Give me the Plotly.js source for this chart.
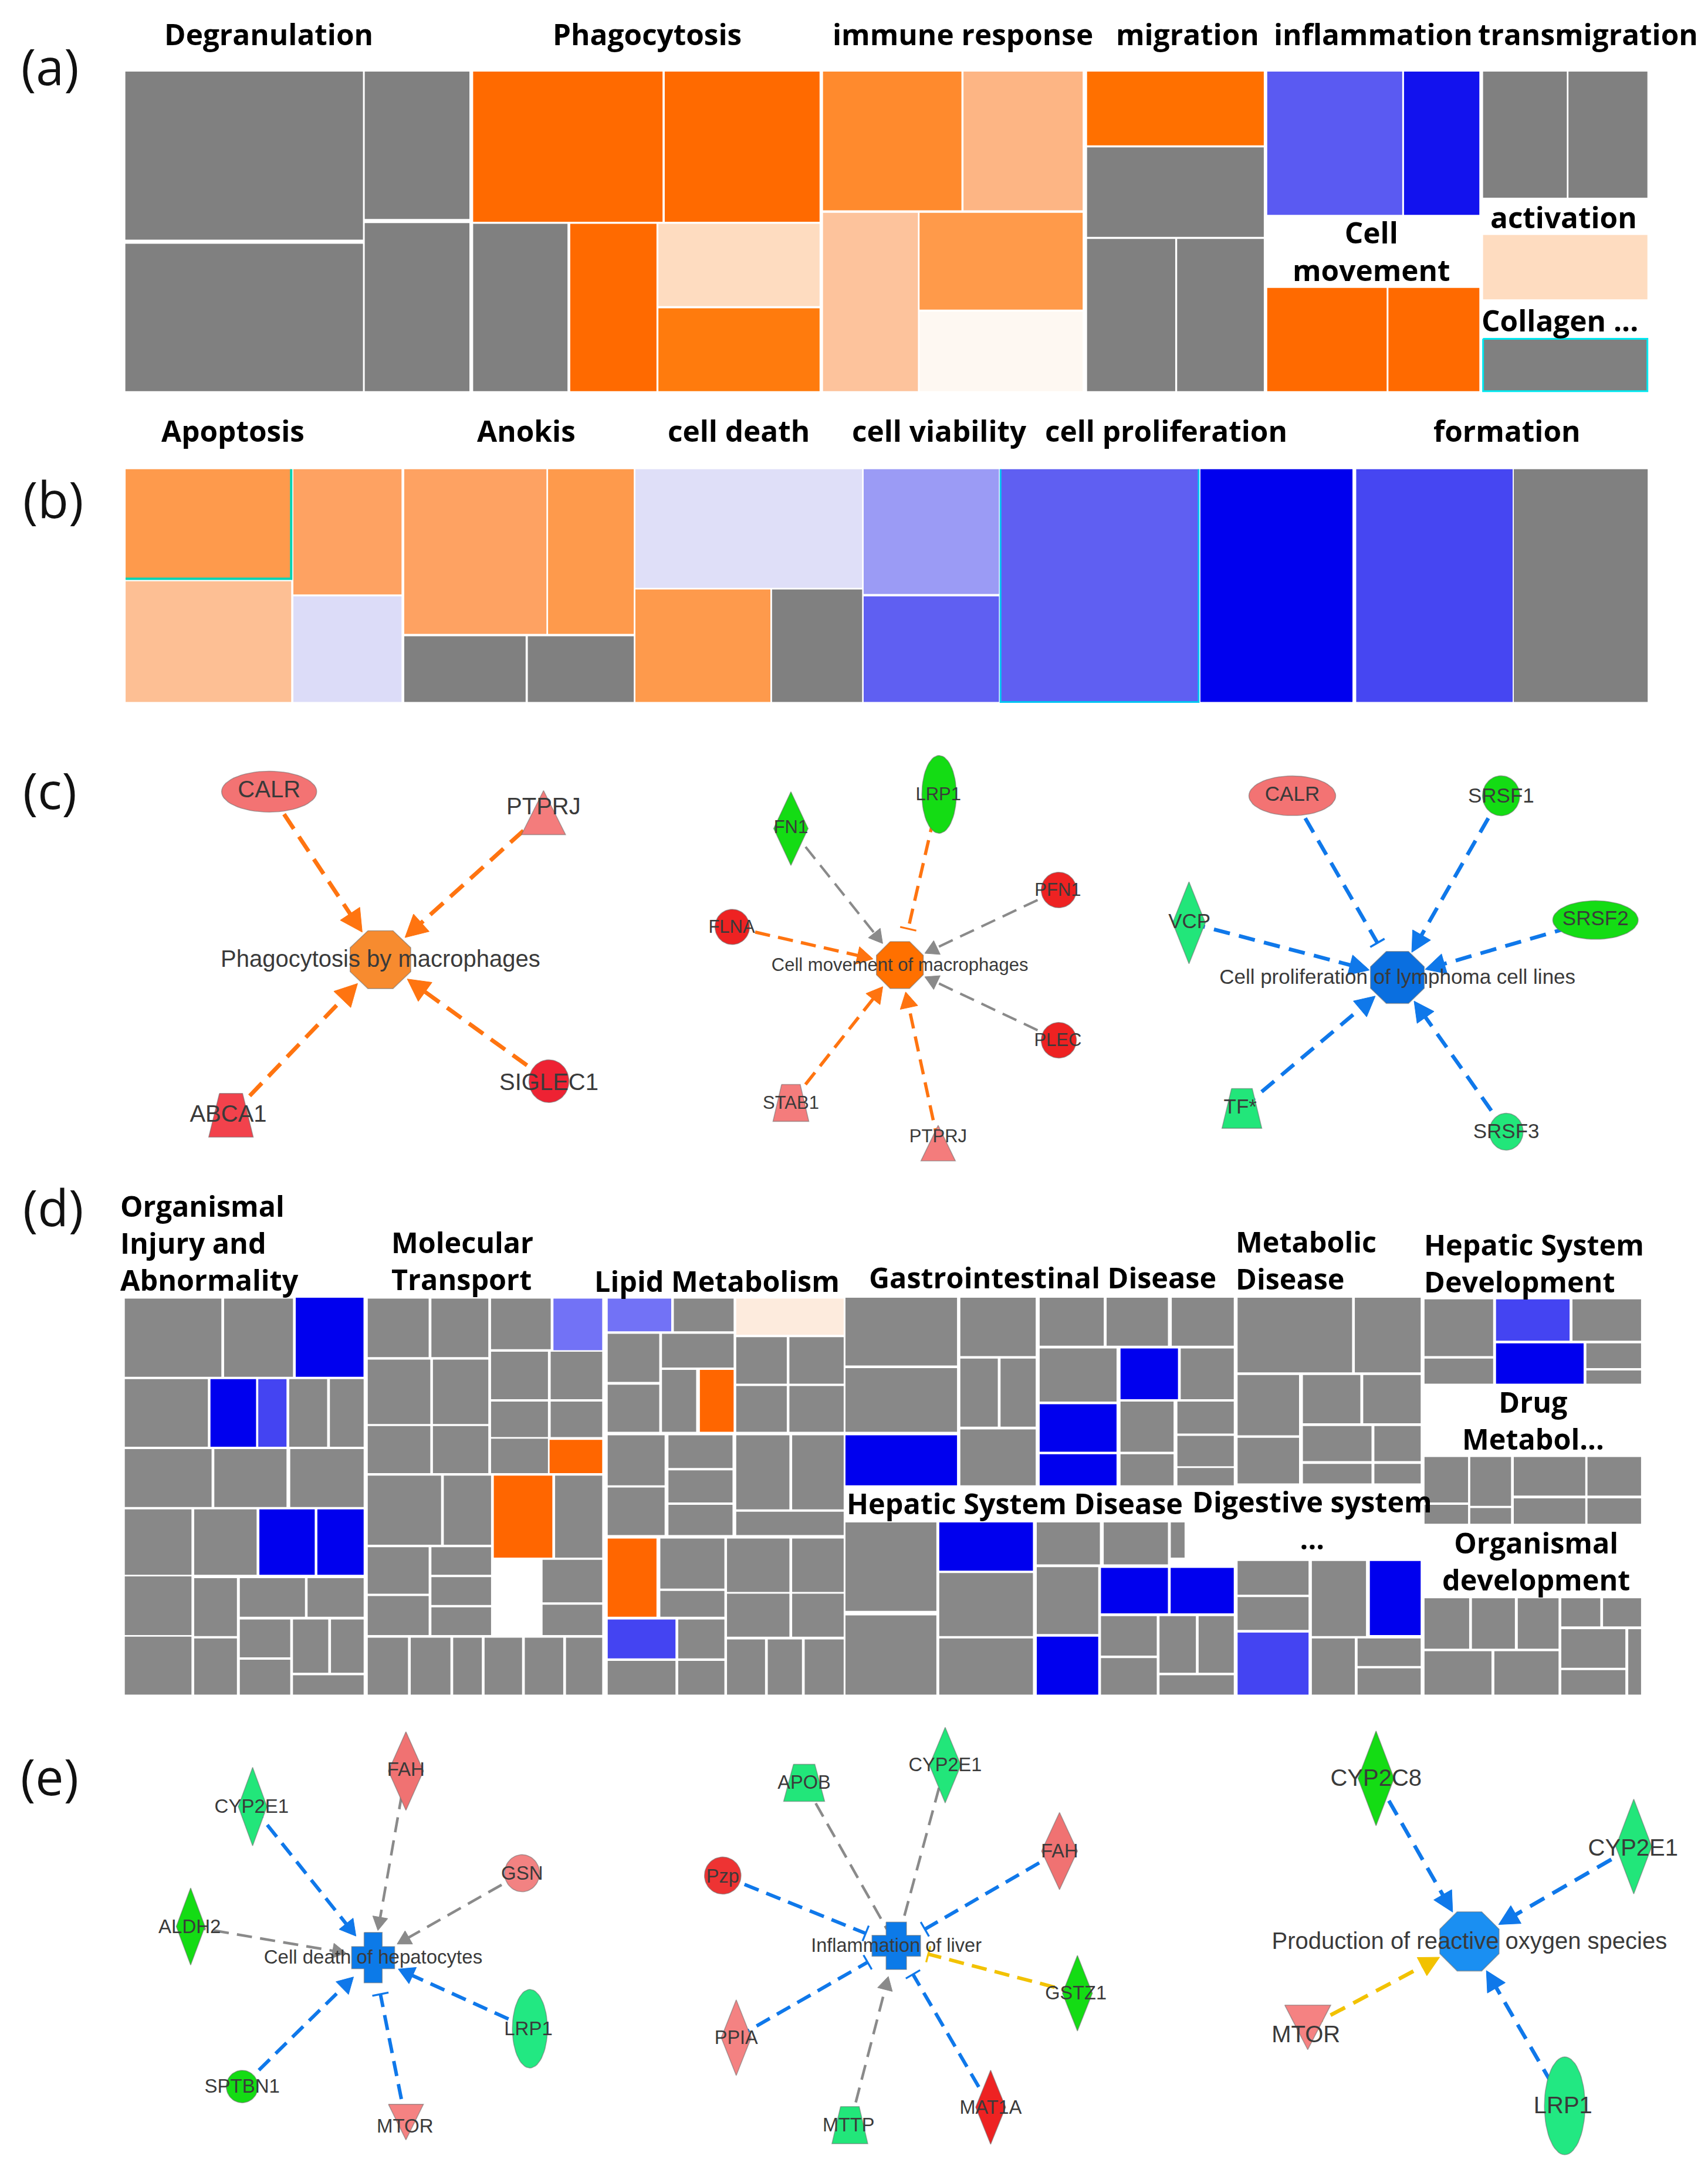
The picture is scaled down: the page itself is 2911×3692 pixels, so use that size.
<!DOCTYPE html>
<html><head><meta charset="utf-8">
<script src="https://cdn.plot.ly/plotly-3.0.1.min.js"></script>
<style>html,body{margin:0;padding:0;background:#fff;}#plot{width:2911px;height:3692px;}</style>
</head><body><div id="plot"></div>
<script>
// ================= DATA =================
// Treemap cells: [x0, y0, x1, y1, colour key] (reference units, 1240 wide)
const cellsA = [
 [91,52,263.5,174,'g'],[91,177,263.5,284,'g'],[264.8,52,340.8,159,'g'],[264.8,162,340.8,284,'g'],
 [343.5,52,481,161,'o'],[482.6,52,595,161,'o'],[343.5,162.5,412,284,'g'],[414,162.5,476.6,284,'o'],[478,162.5,595,222.3,'p1'],[478,223.8,595,284,'o2'],
 [597.5,52,698,152.7,'o3'],[699.5,52,786,152.7,'o4'],[597.5,154.5,666.4,284,'o5'],[667.6,154.5,786,224.8,'o6'],[667.6,226.3,786,284,'w1'],
 [789.2,52,917.5,105.5,'o7'],[789.2,107,917.5,172,'g'],[789.2,173.5,853.2,284,'g'],[854.6,173.5,917.5,284,'g'],
 [920,52,1018,156,'b1'],[1019.3,52,1074,156,'b2'],[920,209,1006.7,284,'o'],[1008,209,1074,284,'o'],
 [1076.7,52,1137.5,143.6,'g'],[1138.7,52,1196,143.6,'g'],[1076.7,170.6,1196,217.3,'p1'],[1076.7,246,1196,284,'g']
];
const labelsA = [['Degranulation',195,24.5],['Phagocytosis',470,24.5],['immune response',699,24.5],['migration',862,24.5],['inflammation',997,24.5],['transmigration',1153,24.5]];
const innerLabelsA = [['Cell<br>movement',995.7,182.5,'center'],['activation',1135,157.5,'center'],['Collagen ...',1075,232.5,'left']];

const cellsB = [
 [91.2,340.7,211.4,420.2,'bo1'],[91.2,422,211.4,509.7,'bp'],[213,340.7,291.5,431.6,'bo2'],[213,433,291.5,509.7,'bl'],
 [293.5,340.7,396.7,460.3,'bo2'],[397.9,340.7,460.1,460.3,'bo1'],[293.5,462,381.6,509.7,'g'],[383.2,462,460.1,509.7,'g'],
 [461.3,340.7,625.9,426.8,'bl2'],[461.3,428,559.3,509.7,'bo1'],[560.5,428,625.9,509.7,'g'],
 [627,340.7,725.2,431.3,'bv1'],[627,433,725.2,509.7,'bv2'],
 [726.4,340.7,870.2,509.7,'bv2'],[871.5,340.7,981.9,509.7,'bb'],
 [984.6,340.7,1098.2,509.7,'bv3'],[1099,340.7,1196.2,509.7,'g']
];
const labelsB = [['Apoptosis',169,312.8],['Anokis',382,312.8],['cell death',536.5,312.8],['cell viability',682,312.8],['cell proliferation',846.8,312.8],['formation',1094,312.8]];

const cellsD = [
 // Organismal Injury and Abnormality
 [90.6,942.9,160.7,999.6,'dg'],[162.7,942.9,212.7,999.6,'dg'],[214.7,942.2,263.9,999.6,'db'],
 [90.6,1001.4,150.9,1050.4,'dg'],[152.8,1001.4,185.9,1050.4,'db'],[187.5,1001.4,208,1050.4,'dm'],[210,1001.4,237.5,1050.4,'dg'],[239.5,1001.4,264,1050.4,'dg'],
 [90.6,1052.2,153.6,1094.2,'dg'],[155.6,1052.2,208,1094.2,'dg'],[210.7,1052.2,264,1094.2,'dg'],
 [90.6,1095.9,139,1143.4,'dg'],[141,1095.9,186.3,1143.4,'dg'],[188.3,1095.9,228.5,1143.4,'db'],[230.4,1095.9,264,1143.4,'db'],
 [90.6,1144.6,139,1187.2,'dg'],[90.6,1188.4,139,1230.4,'dg'],[141,1145.9,172,1187.9,'dg'],[141,1189.6,172,1230.4,'dg'],
 [174.1,1145.9,221.4,1173.9,'dg'],[223.3,1145.9,264,1173.9,'dg'],[174.1,1175.9,210.7,1203.4,'dg'],[174.1,1205.1,210.7,1230.4,'dg'],
 [212.7,1175.9,238.3,1214.6,'dg'],[240.3,1175.9,264,1214.6,'dg'],[212.7,1216.4,264,1230.4,'dg'],
 // Molecular Transport
 [267,942.9,311.2,985.4,'dg'],[313.2,942.9,354.5,985.4,'dg'],[267,987.2,312.4,1033.9,'dg'],[314.3,987.2,354.5,1033.9,'dg'],
 [267,1035.4,312.4,1069.6,'dg'],[314.3,1035.4,354.5,1069.6,'dg'],
 [356.5,942.9,399.8,979.6,'dg'],[401.8,942.9,437.2,980.4,'dl'],[356.5,981.4,397.8,1015.9,'dg'],[399.8,981.4,437.2,1015.9,'dg'],
 [356.5,1017.6,397.8,1043.4,'dg'],[399.8,1017.6,437.2,1043.4,'dg'],[356.5,1044.6,397.8,1069.6,'dg'],[399,1045.4,437.2,1069.6,'do'],
 [267,1071.4,320.2,1121.6,'dg'],[322.2,1071.4,356.5,1121.6,'dg'],[358.5,1071.4,401,1130.9,'do'],[403,1071.4,437.2,1130.9,'dg'],
 [267,1123.4,311.2,1157.1,'dg'],[267,1158.9,311.2,1187.2,'dg'],[313.2,1123.4,356.5,1143.4,'dg'],[313.2,1145.1,356.5,1165.4,'dg'],[313.2,1167.1,356.5,1187.2,'dg'],
 [358.5,1132.1,392,1187.2,'dw'],[393.9,1132.6,437.2,1163.4,'dg'],[393.9,1165.1,437.2,1187.2,'dg'],
 [267,1189.1,296.2,1230.4,'dg'],[298.2,1189.1,327,1230.4,'dg'],[329,1189.1,349.8,1230.4,'dg'],[351.8,1189.1,379,1230.4,'dg'],[381,1189.1,408.9,1230.4,'dg'],[410.9,1189.1,437.2,1230.4,'dg'],
 // Lipid Metabolism
 [441.2,942.9,487.3,966.6,'dl'],[489.2,942.9,532.6,966.6,'dg'],[534.5,942.9,612.5,969.2,'dp'],
 [441.2,968.4,478.6,1003.4,'dg'],[480.6,968.4,532.6,992.9,'dg'],[480.6,994.6,505.4,1039.6,'dg'],[508.1,994.6,532.6,1039.6,'do'],[441.2,1005.4,478.6,1039.6,'dg'],
 [534.5,970.9,571.2,1004.6,'dg'],[573.1,970.9,612.5,1004.6,'dg'],[534.5,1006.4,571.2,1039.6,'dg'],[573.1,1006.4,612.5,1039.6,'dg'],
 [441.2,1042.1,482.5,1078.4,'dg'],[441.2,1080.1,482.5,1114.6,'dg'],[485.3,1042.1,531.8,1065.9,'dg'],[485.3,1067.6,531.8,1090.9,'dg'],[485.3,1092.6,531.8,1114.6,'dg'],
 [534.5,1042.1,573.1,1095.9,'dg'],[575.1,1042.1,612.5,1095.9,'dg'],[534.5,1097.6,612.5,1114.6,'dg'],
 [441.2,1117.1,476.6,1173.9,'do'],[479.4,1117.1,525.9,1153.4,'dg'],[479.4,1155.1,525.9,1173.9,'dg'],
 [441.2,1175.9,490.4,1204.1,'dm'],[492.4,1175.9,525.9,1204.1,'dg'],[441.2,1205.9,490.4,1230.4,'dg'],[492.4,1205.9,525.9,1230.4,'dg'],
 [527.8,1117.1,573.1,1155.9,'dg'],[575.1,1117.1,612.5,1155.9,'dg'],[527.8,1157.1,573.1,1188.4,'dg'],[575.1,1157.1,612.5,1188.4,'dg'],
 [527.8,1190.4,555.4,1230.4,'dg'],[557.4,1190.4,582.2,1230.4,'dg'],[584.2,1190.4,612.5,1230.4,'dg'],
 // Gastrointestinal Disease
 [613.8,942.2,694.8,991.4,'dg'],[613.8,993.4,694.8,1039.6,'dg'],[613.8,1042.1,694.8,1078.4,'db'],
 [697.2,942.2,751.9,984.6,'dg'],[697.2,986.4,724.4,1035.9,'dg'],[726.4,986.4,751.9,1035.9,'dg'],[697.2,1037.9,751.9,1078.4,'dg'],
 [754.8,942.2,801.3,977.1,'dg'],[803.4,942.2,847.9,977.1,'dg'],[850.7,942.2,895.7,977.1,'dg'],
 [754.8,979.1,810.6,1017.6,'dg'],[813.5,979.1,855.2,1015.9,'db'],[857.2,979.1,895.7,1015.9,'dg'],
 [754.8,1019.6,810.6,1054.1,'db'],[754.8,1055.9,810.6,1078.4,'db'],[813.5,1017.6,852,1054.1,'dg'],[813.5,1055.9,852,1078.4,'dg'],
 [854.8,1017.6,895.7,1040.9,'dg'],[854.8,1042.6,895.7,1064.6,'dg'],[854.8,1065.9,895.7,1078.4,'dg'],
 // Hepatic System Disease
 [613.8,1105.4,679.8,1169.6,'dg'],[613.8,1172.9,679.8,1230.4,'dg'],[681.9,1105.4,749.9,1140.4,'db'],[681.9,1142.1,749.9,1187.9,'dg'],[681.9,1189.6,749.9,1230.4,'dg'],
 [752.7,1105.4,798.5,1135.9,'dg'],[801.3,1105.4,847.9,1135.9,'dg'],[850,1105.4,860,1131,'dg'],
 [752.7,1137.9,797.3,1186.4,'dg'],[752.7,1188.4,797.3,1230.4,'db'],[799.3,1138.4,847.9,1171.4,'db'],[849.9,1138.4,895.7,1171.4,'db'],
 [799.3,1173.4,839.8,1202.1,'dg'],[799.3,1203.9,839.8,1230.4,'dg'],[841.8,1173.4,868.2,1214.6,'dg'],[870.2,1173.4,895.7,1214.6,'dg'],[841.8,1216.4,895.7,1230.4,'dg'],
 // Metabolic Disease
 [898.5,942.2,981.6,996.4,'dg'],[983.6,942.2,1031.4,996.4,'dg'],[898.5,998.4,943.1,1042.1,'dg'],[898.5,1043.9,943.1,1077.1,'dg'],
 [945.9,998.4,987.6,1033.4,'dg'],[989.7,998.4,1031.4,1033.4,'dg'],[945.9,1035.4,995.7,1060.9,'dg'],[997.8,1035.4,1031.4,1060.9,'dg'],
 [945.9,1062.9,995.7,1077.1,'dg'],[997.8,1062.9,1031.4,1077.1,'dg'],
 // Digestive system
 [898.5,1133.4,950,1157.9,'dg'],[898.5,1159.6,950,1183.4,'dg'],[898.5,1185.4,950,1230.4,'dm'],[952.4,1133.4,991.7,1187.9,'dg'],[994.5,1133.4,1031.4,1187.2,'db'],
 [952.4,1189.6,983.6,1230.4,'dg'],[985.6,1189.6,1031.4,1209.6,'dg'],[985.6,1211.4,1031.4,1230.4,'dg'],
 // Hepatic System Development
 [1034.2,943.4,1084,984.6,'dg'],[1086.1,943.4,1139.5,973.4,'dm'],[1141.6,943.4,1191.4,973.4,'dg'],[1034.2,986.4,1084,1004.6,'dg'],
 [1086.1,975.4,1149.7,1004.6,'db'],[1151.7,975.4,1191.4,993.4,'dg'],[1151.7,995.1,1191.4,1004.6,'dg'],
 // Drug Metabolism
 [1034.2,1057.9,1065.8,1090.9,'dg'],[1034.2,1092.6,1065.8,1106.4,'dg'],[1067.4,1057.9,1097,1093.4,'dg'],[1067.4,1095,1097,1106.4,'dg'],
 [1099,1057.9,1150.9,1085.9,'dg'],[1152.5,1057.9,1191.4,1085.9,'dg'],[1099,1087.9,1150.9,1106.4,'dg'],[1152.5,1087.9,1191.4,1106.4,'dg'],
 // Organismal development
 [1034.2,1160.4,1066.6,1197.1,'dg'],[1068.6,1160.4,1099.8,1197.1,'dg'],[1101.9,1160.4,1131.5,1197.1,'dg'],[1133.5,1160.4,1161.8,1180.9,'dg'],[1163.8,1160.4,1191.4,1180.9,'dg'],
 [1133.5,1182.9,1180,1210.9,'dg'],[1182.1,1182.9,1191.4,1230.4,'dg'],[1133.5,1212.6,1180,1230.4,'dg'],[1034.2,1198.9,1082.8,1230.4,'dg'],[1084.9,1198.9,1131.5,1230.4,'dg']
];
const labelsD = [
 ['Organismal<br>Injury and<br>Abnormality',86.7,902.3,'left'],
 ['Molecular<br>Transport',283.6,915.4,'left'],
 ['Lipid Metabolism',520.5,929.8,'center'],['Gastrointestinal Disease',756.8,927.4,'center'],
 ['Metabolic<br>Disease',896.5,914.8,'left'],
 ['Hepatic System<br>Development',1033.4,916.7,'left'],
 ['Drug<br>Metabol...',1113,1031,'center'],
 ['Hepatic System Disease',736.6,1091.2,'center'],['Digestive system<br>...',952.6,1103.5,'center'],
 ['Organismal<br>development',1115,1133.5,'center']
];

// Networks: genes, relationship to the function node, and predicted effect colour
const c1Genes = ['CALR','PTPRJ','SIGLEC1','ABCA1'];
const c1Rel   = ['arrow','arrow','arrow','arrow'];
const c1Pred  = ['orange','orange','orange','orange'];
const c2Genes = ['FN1','LRP1','PFN1','FLNA','PLEC','STAB1','PTPRJ'];
const c2Rel   = ['arrow','bar','arrow','arrow','arrow','arrow','arrow'];
const c2Pred  = ['gray','orange','gray','orange','gray','orange','orange'];
const c3Genes = ['CALR','SRSF1','SRSF2','VCP','TF*','SRSF3'];
const c3Rel   = ['bar','arrow','arrow','arrow','arrow','arrow'];
const c3Pred  = ['blue','blue','blue','blue','blue','blue'];
const e1Genes = ['FAH','CYP2E1','GSN','ALDH2','LRP1','SPTBN1','MTOR'];
const e1Rel   = ['arrow','arrow','arrow','arrow','arrow','arrow','bar'];
const e1Pred  = ['gray','blue','gray','gray','blue','blue','blue'];
const e2Genes = ['APOB','CYP2E1','FAH','Pzp','GSTZ1','PPIA','MTTP','MAT1A'];
const e2Rel   = ['none','none','bar','bar','bar','bar','arrow','bar'];
const e2Pred  = ['gray','gray','blue','blue','yellow','blue','gray','blue'];
const e3Genes = ['CYP2C8','CYP2E1','MTOR','LRP1'];
const e3Rel   = ['arrow','arrow','arrow','arrow'];
const e3Pred  = ['blue','blue','yellow','blue'];

// ================= STYLE / LAYOUT =================
const W = 2911, H = 3692, UX = 1240, UY = UX * H / W;
const pal = {
 g:'#808080', o:'#FF6A00', o2:'#FF7B0D', o3:'#FF8A2D', o4:'#FDB584', o5:'#FDC39C', o6:'#FF9A4A', o7:'#FF7000', w1:'#FEF8F2', p1:'#FEDCC0',
 b1:'#5A5AF2', b2:'#1212EE',
 bo1:'#FE9A4C', bo2:'#FEA262', bp:'#FDBF94', bl:'#DCDCF8', bl2:'#DFDFF8', bv1:'#9B9BF5', bv2:'#5F5FF2', bb:'#0000EE', bv3:'#4646F2',
 dg:'#888888', db:'#0000EE', dm:'#4444F2', dl:'#7272F6', do:'#FF6600', dp:'#FDEBDD', dw:'#FFFFFF'
};
const edgeCol = {orange:'#FF7410', blue:'#0F78EA', gray:'#8A8A8A', yellow:'#F2C200'};
const RL='#F37373', RD='#EE2233', RP='#F47C7C', GB='#14DC14', GM='#22E67A';

// node placement (layout) for each network: centre node + satellites [x, y, shape, w, h, fill, labelDx, labelDy]
const netLayouts = [
 {genes:c1Genes, rel:c1Rel, pred:c1Pred, label:'Phagocytosis by macrophages', fs:40,
  center:[276.2,696.8,'octagon',44,42,'#F78B2F'], tip:24, bar:27, aLen:16, aHW:8.5, lw:7, dash:'30px,16px',
  nodes:[[195.4,574.8,'ellipse',69,29.7,RL,0,0],[394.6,590,'triUp',32,32,RP,0,-3],[398.5,785,'ellipse',29,31,RD,0,2],[167.7,809.8,'trap',32.3,31.7,'#F2424C',-2,0.6]]},
 {genes:c2Genes, rel:c2Rel, pred:c2Pred, label:'Cell movement of macrophages', fs:31,
  center:[653.3,700.7,'octagon',34,34,'#FF7000'], tip:20, bar:27, aLen:11.5, aHW:6.5, lw:5.5, dash:'26px,14px',
  nodes:[[574.2,601.6,'diamond',25,53.5,GB,0,0],[681.8,576.8,'ellipse',25,56.5,GB,-0.6,1],[768.7,646.2,'ellipse',25.5,25.8,'#EE2222',-0.7,1],
         [531.6,673,'ellipse',25,25.5,'#EE2222',-0.4,1],[768.7,755.3,'ellipse',25.5,25.8,'#EE2222',-0.7,1],[574.2,800.8,'trap',26,26.8,RP,0,1],[681.1,830,'triUp',25,25.8,RP,0,-4]]},
 {genes:c3Genes, rel:c3Rel, pred:c3Pred, label:'Cell proliferation of lymphoma cell lines', fs:35,
  center:[1014.5,709.7,'octagon',39,37.7,'#0A6FE0'], tip:21, bar:29, aLen:14.5, aHW:7.5, lw:6.5, dash:'28px,16px',
  nodes:[[938.2,577.8,'ellipse',63,28.8,RL,0,0],[1089.8,577.8,'ellipse',27,29,GB,0,1],[1158.3,668,'ellipse',62,28,GB,0,0],
         [863.2,670,'diamond',23.7,59.5,GM,0.3,0],[901.6,804.8,'trap',28.9,28.8,GM,-1.2,0],[1093.5,821.7,'ellipse',24.5,26.8,GM,0,1]]},
 {genes:e1Genes, rel:e1Rel, pred:e1Pred, label:'Cell death of hepatocytes', fs:33,
  center:[270.9,1421.4,'cross',31.2,36.6,'#0C7AE8'], tip:20, bar:27, aLen:11.5, aHW:6.5, lw:6, dash:'26px,14px',
  nodes:[[294.7,1285.9,'diamond',25.4,57,'#F07272',0,0],[183.4,1311.7,'diamond',20.8,57,GM,-0.7,1.1],[379,1360.1,'ellipse',25.4,26.9,'#F28282',0,1.1],
         [138.4,1398.8,'diamond',20.8,56,GB,-0.7,1.1],[384.7,1473,'ellipse',25.4,57,'#22E882',-1.1,1.1],[175.8,1515,'ellipse',23,23.5,GB,0,1],[294.7,1540.8,'triDown',25.4,25.8,'#F58282',-0.7,4.2]]},
 {genes:e2Genes, rel:e2Rel, pred:e2Pred, label:'Inflammation of liver', fs:32.5,
  center:[650.7,1412.8,'cross',35.2,34.4,'#0C7AE8'], tip:23, bar:24, aLen:11.5, aHW:6.5, lw:6, dash:'26px,14px',
  nodes:[[583.8,1294.5,'trap',29.8,26.9,GM,0,1],[686.2,1281.6,'diamond',22.8,54.9,GM,0,1],[769.2,1344,'diamond',26,56,'#F07272',0,1],
         [524.7,1361.8,'ellipse',26.5,26.9,'#EE3333',0,1.5],[782.2,1447.2,'diamond',21.7,54.9,GB,-1.1,1.1],[534.5,1479.5,'diamond',21.7,54.9,'#F48282',0,1.1],
         [617,1543,'trap',26,26.9,GM,-1,1],[719.2,1530,'diamond',21.7,53.8,'#EE2222',0,1.1]]},
 {genes:e3Genes, rel:e3Rel, pred:e3Pred, label:'Production of reactive oxygen species', fs:40,
  center:[1066.8,1409.6,'octagon',43,43,'#1A8FF2'], tip:24.5, bar:27, aLen:14.5, aHW:7.5, lw:6.5, dash:'28px,16px',
  nodes:[[999,1291.2,'diamond',26.1,68.8,GB,0,1.1],[1186.1,1340.7,'diamond',26.1,68.8,GM,-0.5,2.2],[949.4,1472,'triDown',33.4,32.3,'#F58282',-1.3,6.4],[1136,1529,'ellipse',29.5,71,'#22E882',-1.3,1]]}
];
const trapTop = 0.52;

// ================= BUILD =================
const traces = [];
function rectTraces(cells){
  const groups = {};
  cells.forEach(c => { (groups[c[4]] = groups[c[4]] || []).push(c); });
  Object.keys(groups).forEach(k => {
    const xs=[], ys=[];
    groups[k].forEach(c => { xs.push(c[0],c[2],c[2],c[0],c[0],null); ys.push(c[1],c[1],c[3],c[3],c[1],null); });
    traces.push({type:'scatter', mode:'lines', x:xs, y:ys, fill:'toself', fillcolor:pal[k], line:{width:0, color:pal[k]}, hoverinfo:'skip', showlegend:false});
  });
}
rectTraces(cellsA); rectTraces(cellsB); rectTraces(cellsD);

function polyline(xs, ys, color, w){ traces.push({type:'scatter', mode:'lines', x:xs, y:ys, line:{color, width:w}, hoverinfo:'skip', showlegend:false}); }
polyline([1076.7,1196,1196,1076.7,1076.7],[246,246,284,284,246],'#00E8F0',3);
polyline([211.4,211.4,91.2],[340.7,420.2,420.2],'#00D4B4',4);
polyline([726.4,726.4,870.2,870.2],[340.7,509.7,509.7,340.7],'#00C4F2',3);

function shapePts(cx, cy, kind, w, h){
  let p;
  if (kind === 'ellipse') { p=[]; for(let i=0;i<=60;i++){const t=2*Math.PI*i/60; p.push([0.5*Math.cos(t),0.5*Math.sin(t)]);} }
  else if (kind === 'diamond') p=[[0,-.5],[.5,0],[0,.5],[-.5,0]];
  else if (kind === 'triUp') p=[[0,-.5],[.5,.5],[-.5,.5]];
  else if (kind === 'triDown') p=[[-.5,-.5],[.5,-.5],[0,.5]];
  else if (kind === 'trap') p=[[-trapTop/2,-.5],[trapTop/2,-.5],[.5,.5],[-.5,.5]];
  else if (kind === 'octagon') { const c=0.2071; p=[[-c,-.5],[c,-.5],[.5,-c],[.5,c],[c,.5],[-c,.5],[-.5,c],[-.5,-c]]; }
  else if (kind === 'cross') { const a=0.21,b=0.22; p=[[-a,-.5],[a,-.5],[a,-b],[.5,-b],[.5,b],[a,b],[a,.5],[-a,.5],[-a,b],[-.5,b],[-.5,-b],[-a,-b]]; }
  const xs=p.map(q=>cx+q[0]*w), ys=p.map(q=>cy+q[1]*h);
  xs.push(xs[0]); ys.push(ys[0]);
  return [xs, ys];
}
function nodeTrace(cx,cy,kind,w,h,fill){
  const [xs,ys] = shapePts(cx,cy,kind,w,h);
  traces.push({type:'scatter', mode:'lines', x:xs, y:ys, fill:'toself', fillcolor:fill, line:{color:'rgba(110,110,110,0.55)', width:1.6}, hoverinfo:'skip', showlegend:false});
}

netLayouts.forEach(net => {
  const [cx,cy] = net.center;
  net.nodes.forEach((nd,i) => {
    const sx=nd[0], sy=nd[1];
    const dx=cx-sx, dy=cy-sy, L=Math.hypot(dx,dy), ux=dx/L, uy=dy/L, px=-uy, py=ux;
    const col = edgeCol[net.pred[i]];
    const isGray = net.pred[i]==='gray';
    const lw = isGray ? net.lw*0.75 : net.lw;
    const rel = net.rel[i];
    let ex, ey;
    if (rel==='arrow') {
      const tx=cx-ux*net.tip, ty=cy-uy*net.tip;
      const al = isGray ? net.aLen*0.85 : net.aLen, hw = isGray ? net.aHW*0.85 : net.aHW;
      const bx=tx-ux*al, by=ty-uy*al;
      ex = tx-ux*al*0.6; ey = ty-uy*al*0.6;
      traces.push({type:'scatter', mode:'lines', x:[sx,ex], y:[sy,ey], line:{color:col, width:lw, dash:net.dash}, hoverinfo:'skip', showlegend:false});
      traces.push({type:'scatter', mode:'lines', x:[tx,bx+px*hw,bx-px*hw,tx], y:[ty,by+py*hw,by-py*hw,ty], fill:'toself', fillcolor:col, line:{color:col,width:1}, hoverinfo:'skip', showlegend:false});
    } else if (rel==='bar') {
      ex=cx-ux*net.bar; ey=cy-uy*net.bar;
      traces.push({type:'scatter', mode:'lines', x:[sx,ex], y:[sy,ey], line:{color:col, width:lw, dash:net.dash}, hoverinfo:'skip', showlegend:false});
      const hb=6;
      traces.push({type:'scatter', mode:'lines', x:[ex+px*hb,ex-px*hb], y:[ey+py*hb,ey-py*hb], line:{color:col, width:lw*0.55}, hoverinfo:'skip', showlegend:false});
    } else {
      ex=cx-ux*14; ey=cy-uy*14;
      traces.push({type:'scatter', mode:'lines', x:[sx,ex], y:[sy,ey], line:{color:col, width:lw, dash:net.dash}, hoverinfo:'skip', showlegend:false});
    }
  });
  net.nodes.forEach(nd => nodeTrace(nd[0],nd[1],nd[2],nd[3],nd[4],nd[5]));
  nodeTrace(cx,cy,net.center[2],net.center[3],net.center[4],net.center[5]);
  traces.push({type:'scatter', mode:'text', x:net.nodes.map(n=>n[0]+n[6]).concat([cx]), y:net.nodes.map(n=>n[1]+n[7]).concat([cy+1]),
    text:net.genes.concat([net.label]), textposition:'middle center', cliponaxis:false,
    textfont:{family:'Liberation Sans, Arial, sans-serif', size:net.fs, color:'#3a3a3a'}, hoverinfo:'skip', showlegend:false});
});

// annotations
const ann = [];
const tmFontA = {family:'Open Sans, sans-serif', size:49.5, color:'#000', weight:700};
const tmFontD = {family:'Open Sans, sans-serif', size:48.5, color:'#000', weight:700};
function addLabel(t,x,y,anchor,font){ ann.push({text:t, x, y, xref:'x', yref:'y', showarrow:false, xanchor:anchor||'center', yanchor:'middle', align:anchor==='left'?'left':'center', font, borderpad:0}); }
labelsA.forEach(l=>addLabel(l[0],l[1],l[2],'center',tmFontA));
innerLabelsA.forEach(l=>addLabel(l[0],l[1],l[2],l[3],tmFontA));
labelsB.forEach(l=>addLabel(l[0],l[1],l[2],'center',tmFontA));
labelsD.forEach(l=>addLabel(l[0],l[1],l[2],l[3],tmFontD));
const panelLetters = [['(a)',36.5,47.5],['(b)',38.7,362],['(c)',36,573],['(d)',38.4,876],['(e)',36,1289]];
panelLetters.forEach(p=>ann.push({text:p[0], x:p[1], y:p[2], xref:'x', yref:'y', showarrow:false, xanchor:'center', yanchor:'middle',
  font:{family:'Open Sans, sans-serif', size:86, color:'#111', weight:400}}));

const layout = {
  width:W, height:H, margin:{l:0,r:0,t:0,b:0}, paper_bgcolor:'#fff', plot_bgcolor:'#fff', showlegend:false,
  xaxis:{range:[0,UX], visible:false, fixedrange:true, domain:[0,1]},
  yaxis:{range:[UY,0], visible:false, fixedrange:true, domain:[0,1]},
  annotations:ann
};
Plotly.newPlot('plot', traces, layout, {staticPlot:true, displayModeBar:false});
</script></body></html>
